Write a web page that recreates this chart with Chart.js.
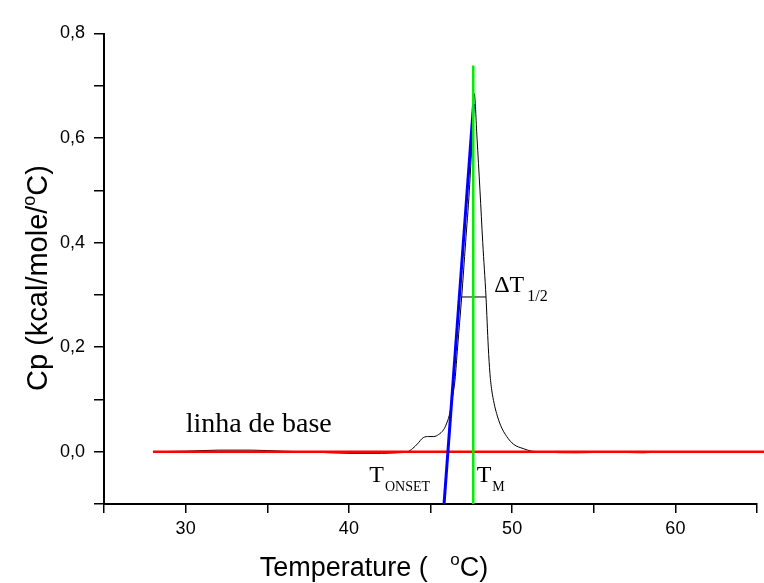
<!DOCTYPE html>
<html>
<head>
<meta charset="utf-8">
<script src="https://cdn.jsdelivr.net/npm/chart.js@4"></script>
<style>
  html, body { margin: 0; padding: 0; background: #fff; }
  #wrap { width: 764px; height: 583px; position: relative; }
</style>
</head>
<body>
<div id="wrap"><canvas id="c" width="764" height="583"></canvas></div>
<script>
// ---- data ----
const temps = [28, 30, 32, 34, 36, 38, 40, 42, 43, 43.6, 43.9, 44.2, 44.56, 44.9, 45.2, 45.5, 45.8, 46.0, 46.19, 46.35, 46.5, 46.66, 46.91, 47.15, 47.38, 47.55, 47.68, 47.85, 48.03, 48.2, 48.4, 48.54, 48.64, 48.75, 48.9, 49.05, 49.3, 49.67, 50.1, 50.68, 51.2, 52, 54, 56, 58, 60, 62, 65];
const cp =    [0, 0.001, 0.003, 0.003, 0.001, -0.001, -0.003, -0.003, -0.002, 0, 0.006, 0.015, 0.027, 0.029, 0.029, 0.033, 0.042, 0.055, 0.075, 0.105, 0.137, 0.2, 0.296, 0.4, 0.5, 0.6, 0.685, 0.6, 0.5, 0.4, 0.296, 0.2, 0.15, 0.118, 0.092, 0.073, 0.05, 0.029, 0.014, 0.006, 0.001, -0.001, -0.002, -0.001, -0.002, 0, 0, 0];
const baselineX = [28, 65.5];
const baselineY = [0, 0];
const onsetX = [45.83, 47.64];
const onsetY = [-0.1, 0.666];
const tmX = [47.62, 47.62];
const tmY = [-0.1, 0.739];
const halfX = [46.91, 48.40];
const halfY = [0.296, 0.296];
const xTicks = [25, 30, 35, 40, 45, 50, 55, 60, 65];
const xTickLabels = ['', '30', '', '40', '', '50', '', '60', ''];
const yTickLabels = ['', '0,0', '', '0,2', '', '0,4', '', '0,6', '', '0,8'];

const pts = (xs, ys) => xs.map((x, i) => ({ x: x, y: ys[i] }));

const annot = {
  id: 'annot',
  afterDraw(chart) {
    const ctx = chart.ctx;
    const xs = chart.scales.x, ys = chart.scales.y;
    const px = v => xs.getPixelForValue(v), py = v => ys.getPixelForValue(v);
    ctx.save();
    ctx.fillStyle = '#000';
    ctx.textBaseline = 'alphabetic';
    ctx.textAlign = 'left';
    // serif annotations
    ctx.font = '28px "Liberation Serif", "DejaVu Serif", serif';
    ctx.fillText('linha de base', px(30.0), py(0.0377));
    // T ONSET
    let x0 = px(41.25), b0 = py(-0.0574);
    ctx.font = '24px "Liberation Serif", serif';
    ctx.fillText('T', x0, b0);
    let w = ctx.measureText('T').width;
    ctx.font = '14px "Liberation Serif", serif';
    ctx.fillText('ONSET', x0 + w + 1, b0 + 9.5);
    // T M
    x0 = px(47.83);
    ctx.font = '24px "Liberation Serif", serif';
    ctx.fillText('T', x0, b0);
    w = ctx.measureText('T').width;
    ctx.font = '14px "Liberation Serif", serif';
    ctx.fillText('M', x0 + w + 1, b0 + 9.5);
    // Delta T 1/2
    x0 = px(48.9); const b1 = py(0.3048);
    ctx.font = '24px "Liberation Serif", serif';
    ctx.fillText('\u0394T', x0, b1);
    w = ctx.measureText('\u0394T').width;
    ctx.font = '16px "Liberation Serif", serif';
    ctx.fillText('1/2', x0 + w + 3, b1 + 9);

    // axis titles
    const sans = '"Liberation Sans", Arial, sans-serif';
    // x title
    ctx.font = '27px ' + sans;
    const p1 = 'Temperature (   ', p2 = 'C)';
    const w1 = ctx.measureText(p1).width, w2 = ctx.measureText(p2).width;
    ctx.font = '17px ' + sans;
    const wo = ctx.measureText('o').width;
    const total = w1 + wo + w2;
    let tx = 374 - total / 2; const tb = 576;
    ctx.font = '27px ' + sans;
    ctx.fillText(p1, tx, tb);
    ctx.font = '17px ' + sans;
    ctx.fillText('o', tx + w1, tb - 11);
    ctx.font = '27px ' + sans;
    ctx.fillText(p2, tx + w1 + wo, tb);

    // y title (rotated)
    ctx.save();
    ctx.translate(47, 278);
    ctx.rotate(-Math.PI / 2);
    ctx.font = '29px ' + sans;
    const q1 = 'Cp (kcal/mole/', q2 = 'C)';
    const v1 = ctx.measureText(q1).width, v2 = ctx.measureText(q2).width;
    ctx.font = '18px ' + sans;
    const vo = ctx.measureText('o').width;
    const tot2 = v1 + vo + v2;
    let sx = -tot2 / 2;
    ctx.font = '29px ' + sans;
    ctx.fillText(q1, sx, 0);
    ctx.font = '18px ' + sans;
    ctx.fillText('o', sx + v1, -12);
    ctx.font = '29px ' + sans;
    ctx.fillText(q2, sx + v1 + vo, 0);
    ctx.restore();
    ctx.restore();
  }
};

const tickFont = { family: '"Liberation Sans", Arial, sans-serif', size: 18 };

new Chart(document.getElementById('c'), {
  type: 'scatter',
  data: {
    datasets: [
      { data: pts(tmX, tmY), showLine: true, borderColor: '#00ee00', borderWidth: 2.5, pointRadius: 0, order: 0 },
      { data: pts(onsetX, onsetY), showLine: true, borderColor: '#0000ff', borderWidth: 3, pointRadius: 0, order: 1 },
      { data: pts(baselineX, baselineY), showLine: true, borderColor: '#ff0000', borderWidth: 2.5, pointRadius: 0, order: 2, clip: false },
      { data: pts(temps, cp), showLine: true, borderColor: '#000000', borderWidth: 1, pointRadius: 0, cubicInterpolationMode: 'monotone', order: 3 },
      { data: pts(halfX, halfY), showLine: true, borderColor: '#000000', borderWidth: 1, pointRadius: 0, order: 4 }
    ]
  },
  options: {
    responsive: false,
    animation: false,
    events: [],
    layout: { padding: { left: 0, right: 7, top: 33.5, bottom: 0 } },
    plugins: { legend: { display: false }, tooltip: { enabled: false } },
    scales: {
      x: {
        type: 'linear', min: 25, max: 65,
        afterBuildTicks: s => { s.ticks = xTicks.map(v => ({ value: v })); },
        afterFit: s => { s.height = 79; },
        grid: { drawOnChartArea: false, drawTicks: true, tickLength: 9, color: '#000', lineWidth: 1.5 },
        border: { display: true, color: '#000', width: 2 },
        ticks: {
          color: '#000', font: tickFont, padding: 5, maxRotation: 0, autoSkip: false,
          callback: (v) => xTickLabels[xTicks.indexOf(v)]
        }
      },
      y: {
        type: 'linear', min: -0.1, max: 0.8,
        afterBuildTicks: s => { s.ticks = yTickLabels.map((t, i) => ({ value: Math.round((i - 1) * 10) / 100 })); },
        afterFit: s => { s.width = 104; },
        grid: { drawOnChartArea: false, drawTicks: true, tickLength: 10, color: '#000', lineWidth: 1.5 },
        border: { display: true, color: '#000', width: 2 },
        ticks: {
          color: '#000', font: tickFont, padding: 9, autoSkip: false,
          callback: (v, i) => yTickLabels[i]
        }
      }
    }
  },
  plugins: [annot]
});
</script>
</body>
</html>
